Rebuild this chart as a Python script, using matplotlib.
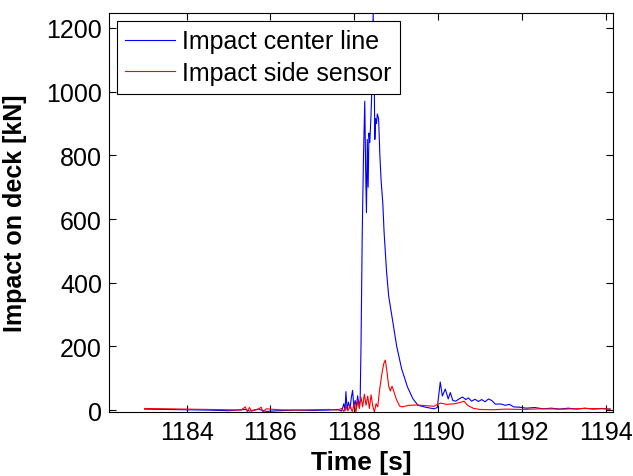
import matplotlib
matplotlib.use("Agg")
import matplotlib.pyplot as plt

plt.rcParams['font.family'] = ['Liberation Sans', 'DejaVu Sans']

# Impact center line (blue)
t_center = [1183.00, 1183.5, 1184.0, 1184.5, 1185.0, 1185.4, 1185.5, 1185.7, 1185.9, 1186.2,
            1186.6, 1187.0, 1187.4, 1187.6, 1187.7, 1187.75, 1187.78, 1187.80, 1187.83, 1187.86,
            1187.90, 1187.93, 1187.96, 1187.99, 1188.02, 1188.05, 1188.08, 1188.11, 1188.14, 1188.16,
            1188.19, 1188.22, 1188.25, 1188.27, 1188.29, 1188.31, 1188.33, 1188.35, 1188.37, 1188.40,
            1188.43, 1188.45, 1188.47, 1188.49, 1188.51, 1188.53, 1188.55, 1188.58, 1188.61, 1188.64,
            1188.68, 1188.71, 1188.77, 1188.82, 1188.92, 1189.01, 1189.13, 1189.27, 1189.40, 1189.52,
            1189.70, 1189.90, 1189.98, 1190.05, 1190.10, 1190.17, 1190.24, 1190.29, 1190.35, 1190.42,
            1190.50, 1190.58, 1190.66, 1190.72, 1190.80, 1190.88, 1190.96, 1191.04, 1191.12, 1191.20,
            1191.28, 1191.36, 1191.50, 1191.60, 1191.70, 1191.80, 1191.95, 1192.1, 1192.3, 1192.5,
            1192.7, 1192.9, 1193.1, 1193.3, 1193.5, 1193.7, 1193.9, 1194.1]
f_center = [3, 2, 1, 0, -2, 2, -3, 3, -4, -2,
            0, -1, 0, 2, -3, 20, -2, 58, 0, 25,
            5, 40, 62, 8, 30, 10, 45, 15, 30, 200,
            560, 800, 970, 760, 620, 850, 700, 870, 840, 930,
            1060, 1247, 1100, 850, 915, 900, 930, 915, 800, 720,
            650, 560, 434, 358, 276, 201, 129, 72, 35, 15,
            9, 4, 8, 88, 44, 66, 35, 55, 30, 28,
            35, 41, 33, 38, 28, 34, 27, 33, 26, 35,
            30, 19, 19, 15, 18, 10, 9, 6, 8, 4,
            6, 3, 6, 3, 6, 3, 5, 3]

# Impact side sensor (red)
t_side = [1183.00, 1183.5, 1184.0, 1184.5, 1185.0, 1185.3, 1185.4, 1185.45, 1185.5, 1185.55,
          1185.7, 1185.78, 1185.82, 1185.9, 1186.2, 1186.6, 1187.0, 1187.4, 1187.6, 1187.7,
          1187.75, 1187.80, 1187.85, 1187.90, 1187.95, 1188.00, 1188.04, 1188.08, 1188.12, 1188.16,
          1188.20, 1188.24, 1188.28, 1188.32, 1188.36, 1188.40, 1188.44, 1188.48, 1188.52, 1188.56,
          1188.60, 1188.65, 1188.70, 1188.74, 1188.78, 1188.82, 1188.86, 1188.90, 1188.94, 1189.00,
          1189.08, 1189.15, 1189.30, 1189.50, 1189.70, 1189.90, 1190.05, 1190.20, 1190.40, 1190.55,
          1190.62, 1190.70, 1190.85, 1191.00, 1191.3, 1191.6, 1192.0, 1192.5, 1193.0, 1193.5,
          1194.0, 1194.1]
f_side = [5, 4, 3, 2, 1, 0, 10, -5, 8, -3,
          2, 9, -6, 4, 1, 0, 1, 2, 0, 5,
          -4, 12, -2, 15, -5, 20, -6, 30, 5, 40,
          10, 50, 15, 44, 5, 48, 13, -6, 20, 10,
          60, 107, 145, 157, 120, 75, 60, 75, 60, 35,
          13, 10, 15, 16, 14, 12, 22, 18, 20, 25,
          28, 15, 5, 2, 1, 3, 2, 4, 3, 5,
          4, 3]

fig = plt.figure(figsize=(6.33, 4.77), dpi=100)
ax = fig.add_axes([0.1722, 0.1342, 0.7962, 0.8364])

ax.plot(t_center, f_center, color=(0, 0, 1), linewidth=0.8, label='Impact center line')
ax.plot(t_side, f_side, color=(1, 0, 0), linewidth=0.8, label='Impact side sensor')

ax.set_xlim(1182.15, 1194.17)
ax.set_ylim(-6, 1247)
ax.set_xticks([1184, 1186, 1188, 1190, 1192, 1194])
ax.set_yticks([0, 200, 400, 600, 800, 1000, 1200])
ax.tick_params(direction='in', top=True, right=True, length=5, labelsize=18, width=0.8)
ax.tick_params(axis='x', pad=6)
ax.tick_params(axis='y', pad=5)
for s in ax.spines.values():
    s.set_linewidth(0.8)

ax.set_xlabel('Time [s]', fontsize=19, fontweight='bold', labelpad=4)
ax.set_ylabel('Impact on deck [kN]', fontsize=18, fontweight='bold', labelpad=14)

leg = ax.legend(loc='upper left', fontsize=18, fancybox=False, edgecolor='black',
                framealpha=1, borderaxespad=0.3, handlelength=2.0, borderpad=0.35,
                labelspacing=0.3, handletextpad=0.25)
leg.get_frame().set_linewidth(0.8)

fig.savefig('out.png', dpi=100)
